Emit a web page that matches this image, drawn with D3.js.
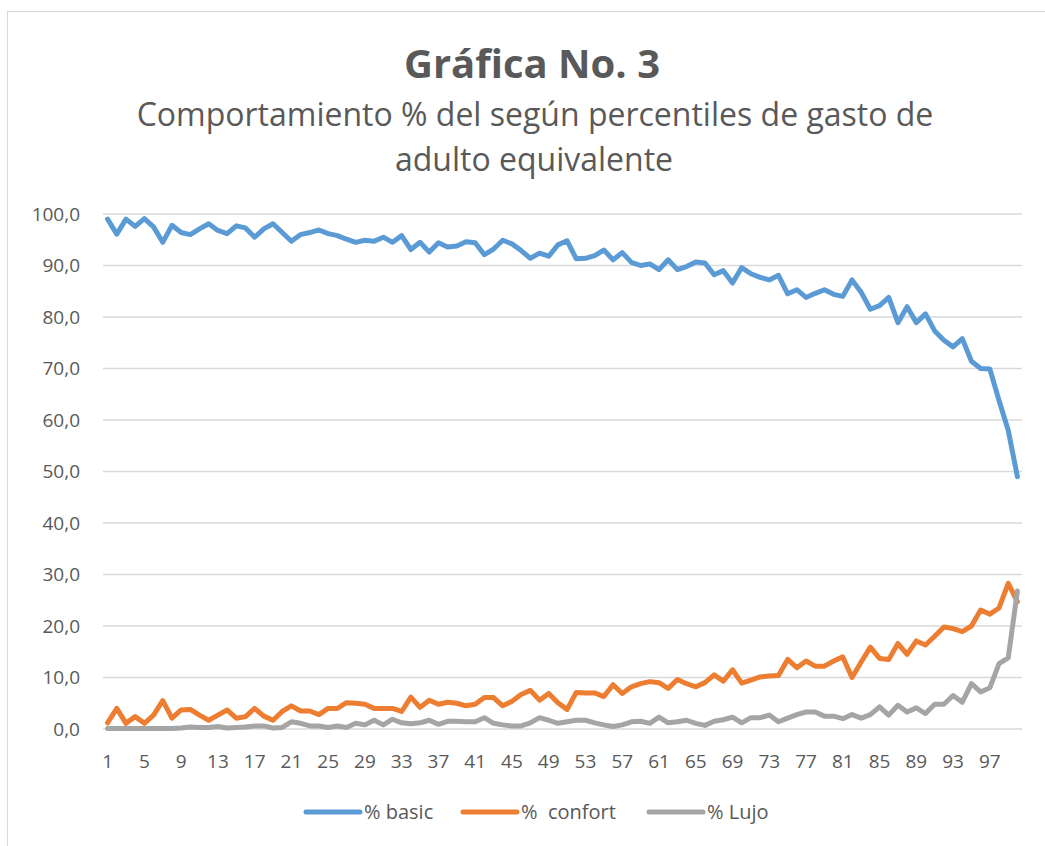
<!DOCTYPE html>
<html>
<head>
<meta charset="utf-8">
<script src="https://cdn.jsdelivr.net/npm/d3@7"></script>
<style>
  body { margin: 0; background: #fff; }
  text { font-family: "Open Sans", "Noto Sans", sans-serif; fill: #595959; }
</style>
</head>
<body>
<div id="chart"></div>
<script>
// percentiles 1..100
const percentiles = d3.range(1, 101)

const basic = [
  99.0, 96.1, 99.0, 97.6, 99.1, 97.5, 94.5, 97.8, 96.4, 96.0,
  97.1, 98.1, 96.8, 96.2, 97.7, 97.3, 95.5, 97.1, 98.1, 96.4,
  94.7, 96.0, 96.4, 96.9, 96.2, 95.8, 95.1, 94.5, 94.9, 94.7,
  95.5, 94.5, 95.8, 93.1, 94.5, 92.6, 94.4, 93.6, 93.8, 94.6,
  94.4, 92.1, 93.2, 94.9, 94.2, 92.9, 91.4, 92.4, 91.8, 94.0,
  94.8, 91.3, 91.4, 91.9, 93.0, 91.1, 92.5, 90.6, 90.0, 90.3,
  89.2, 91.1, 89.2, 89.8, 90.7, 90.5, 88.2, 89.0, 86.6, 89.6,
  88.4, 87.7, 87.2, 88.1, 84.5, 85.3, 83.8, 84.6, 85.3, 84.4,
  84.0, 87.2, 84.8, 81.5, 82.2, 83.8, 78.9, 82.0, 78.9, 80.6,
  77.3, 75.5, 74.2, 75.8, 71.4, 70.0, 69.9, 63.8, 58.0, 49.0
]

const confort = [
  1.2, 4.0, 1.1, 2.4, 1.1, 2.7, 5.5, 2.1, 3.7, 3.8,
  2.7, 1.7, 2.7, 3.7, 2.1, 2.4, 4.0, 2.5, 1.7, 3.4,
  4.5, 3.5, 3.5, 2.8, 4.0, 4.0, 5.1, 5.0, 4.8, 4.0,
  4.0, 4.0, 3.4, 6.2, 4.2, 5.6, 4.8, 5.2, 5.0, 4.5,
  4.8, 6.1, 6.1, 4.5, 5.4, 6.7, 7.5, 5.6, 6.9, 5.1,
  3.8, 7.1, 7.0, 7.0, 6.3, 8.6, 6.9, 8.2, 8.8, 9.2,
  9.0, 7.9, 9.6, 8.8, 8.2, 9.0, 10.5, 9.3, 11.5, 8.9,
  9.5, 10.1, 10.3, 10.4, 13.5, 11.9, 13.2, 12.2, 12.2, 13.2,
  14.0, 10.0, 13.0, 15.9, 13.7, 13.5, 16.6, 14.5, 17.1, 16.3,
  18.0, 19.8, 19.5, 18.9, 20.0, 23.1, 22.3, 23.5, 28.3, 24.7
]

const lujo = [
  0.1, 0.1, 0.1, 0.1, 0.1, 0.1, 0.1, 0.1, 0.2, 0.4,
  0.3, 0.3, 0.5, 0.2, 0.3, 0.4, 0.6, 0.6, 0.2, 0.3,
  1.4, 1.1, 0.6, 0.6, 0.3, 0.6, 0.3, 1.1, 0.8, 1.7,
  0.8, 1.9, 1.2, 1.0, 1.2, 1.7, 0.9, 1.5, 1.5, 1.4,
  1.4, 2.2, 1.1, 0.8, 0.6, 0.6, 1.2, 2.2, 1.7, 1.1,
  1.4, 1.7, 1.7, 1.2, 0.8, 0.5, 0.8, 1.4, 1.5, 1.1,
  2.3, 1.2, 1.4, 1.7, 1.1, 0.7, 1.5, 1.8, 2.3, 1.2,
  2.2, 2.2, 2.7, 1.4, 2.1, 2.8, 3.3, 3.3, 2.5, 2.5,
  2.0, 2.8, 2.1, 2.8, 4.3, 2.7, 4.6, 3.3, 4.1, 3.0,
  4.8, 4.8, 6.5, 5.2, 8.8, 7.2, 8.0, 12.7, 13.8, 26.8
]

const seriesNames = ["% basic", "%  confort", "% Lujo"]
const seriesColors = ["#5b9bd5", "#ed7d31", "#a5a5a5"]
const yTicks = d3.range(0, 101, 10)
const xTickValues = percentiles.filter(p => (p - 1) % 4 === 0)

const width = 1045
const height = 846
const plot = { left: 103, right: 1022, top: 214, bottom: 729 }

const svg = d3.select("#chart")
  .append("svg")
  .attr("width", width)
  .attr("height", height)

// chart area border (runs off the right/bottom edge like the source)
svg.append("rect")
  .attr("x", 7.5)
  .attr("y", 11.5)
  .attr("width", 1060)
  .attr("height", 860)
  .attr("fill", "#fff")
  .attr("stroke", "#d9d9d9")
  .attr("stroke-width", 1)

svg.append("text")
  .attr("x", 532)
  .attr("y", 78)
  .attr("text-anchor", "middle")
  .style("font-size", "40px")
  .style("font-weight", "bold")
  .text("Gráfica No. 3")

svg.append("text")
  .attr("x", 535)
  .attr("y", 126)
  .attr("text-anchor", "middle")
  .style("font-size", "32px")
  .text("Comportamiento % del según percentiles de gasto de")

svg.append("text")
  .attr("x", 534)
  .attr("y", 171)
  .attr("text-anchor", "middle")
  .style("font-size", "32px")
  .text("adulto equivalente")

var x = d3.scaleBand()
  .domain(percentiles)
  .range([plot.left, plot.right])
  .padding(0)

var y = d3.scaleLinear()
  .domain([0, 100])
  .range([plot.bottom, plot.top])

const fmt = d => d.toFixed(1).replace(".", ",")

// gridlines
svg.append("g")
  .selectAll("line")
  .data(yTicks)
  .join("line")
  .attr("x1", plot.left)
  .attr("x2", plot.right)
  .attr("y1", d => y(d))
  .attr("y2", d => y(d))
  .attr("stroke", "#d9d9d9")
  .attr("stroke-width", 1.5)

var yAxis = d3.axisLeft(y)
  .tickValues(yTicks)
  .tickSize(0)
  .tickPadding(23)
  .tickFormat(fmt)

svg.append("g")
  .attr("class", "y-axis")
  .attr("transform", `translate(${plot.left},0)`)
  .call(yAxis)
  .call(g => g.select(".domain").remove())

var xAxis = d3.axisBottom(x)
  .tickValues(xTickValues)
  .tickSize(0)
  .tickPadding(26)

svg.append("g")
  .attr("class", "x-axis")
  .attr("transform", `translate(0,${plot.bottom})`)
  .call(xAxis)
  .call(g => g.select(".domain").remove())

svg.selectAll(".x-axis text, .y-axis text")
  .style("font-family", '"Open Sans", "Noto Sans", sans-serif')
  .style("font-size", "19px")
  .attr("fill", "#595959")

const line = d3.line()
  .x((d, i) => x(percentiles[i]) + x.bandwidth() / 2)
  .y(d => y(d))

const allSeries = [basic, confort, lujo]

svg.append("g")
  .selectAll("path")
  .data(allSeries)
  .join("path")
  .attr("d", line)
  .attr("fill", "none")
  .attr("stroke", (d, i) => seriesColors[i])
  .attr("stroke-width", 5)
  .attr("stroke-linejoin", "round")
  .attr("stroke-linecap", "round")

// legend
const legendX = [306, 463, 649]
const legend = svg.append("g")
  .selectAll("g")
  .data(seriesNames)
  .join("g")
  .attr("transform", (d, i) => `translate(${legendX[i]},812)`)

legend.append("line")
  .attr("x1", 0)
  .attr("x2", 54)
  .attr("stroke", (d, i) => seriesColors[i])
  .attr("stroke-width", 5)
  .attr("stroke-linecap", "round")

legend.append("text")
  .attr("x", 58)
  .attr("y", 7)
  .style("font-size", "20px")
  .style("white-space", "pre")
  .attr("xml:space", "preserve")
  .text(d => d)
</script>
</body>
</html>
